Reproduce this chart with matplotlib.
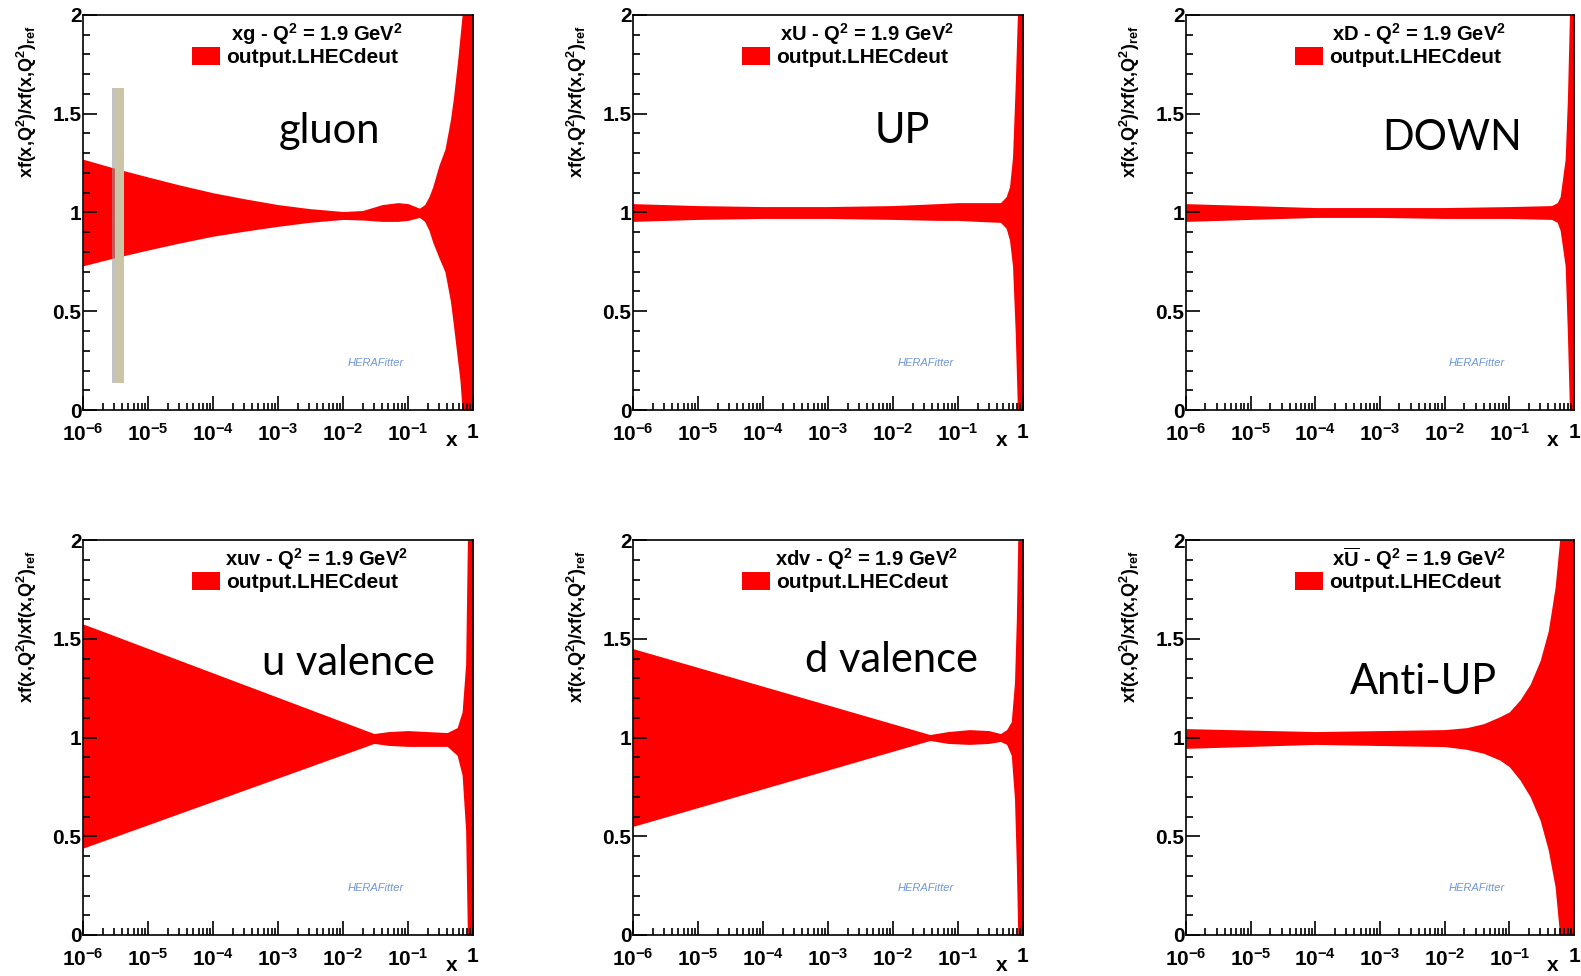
import numpy as np
import matplotlib.pyplot as plt
from matplotlib.patches import Patch, Rectangle
from matplotlib.ticker import LogLocator, NullFormatter, FixedLocator, MultipleLocator

plt.rcParams['font.family'] = ['Liberation Sans', 'DejaVu Sans']
plt.rcParams['mathtext.fontset'] = 'custom'
plt.rcParams['mathtext.rm'] = 'Liberation Sans:bold'
plt.rcParams['mathtext.bf'] = 'Liberation Sans:bold'
plt.rcParams['mathtext.default'] = 'bf'

# ==============================================================
# band edges (ratio to reference PDF)
x_gluon = [1e-6, 3e-6, 1e-5, 3e-5, 1e-4, 3e-4, 1e-3, 3e-3, 1e-2, 2e-2, 4e-2, 7e-2, 0.1,
           0.13, 0.15, 0.18, 0.21, 0.24, 0.3, 0.37, 0.45, 0.5, 0.58, 0.63, 0.68, 1.0]
up_gluon = [1.27, 1.225, 1.18, 1.14, 1.10, 1.07, 1.04, 1.02, 1.005, 1.01, 1.04, 1.05, 1.045,
            1.03, 1.022, 1.04, 1.08, 1.13, 1.24, 1.32, 1.47, 1.58, 1.77, 1.89, 2.0, 2.0]
lo_gluon = [0.73, 0.77, 0.81, 0.845, 0.88, 0.905, 0.93, 0.95, 0.965, 0.962, 0.955, 0.955, 0.96,
            0.97, 0.975, 0.955, 0.91, 0.85, 0.77, 0.70, 0.55, 0.43, 0.25, 0.15, 0.0, 0.0]

x_U = [1e-6, 1e-5, 1e-4, 1e-3, 1e-2, 5e-2, 0.1, 0.2, 0.45, 0.55, 0.62, 0.69, 0.76, 0.82, 1.0]
up_U = [1.045, 1.035, 1.03, 1.03, 1.035, 1.045, 1.05, 1.05, 1.05, 1.08, 1.13, 1.28, 1.65, 2.0, 2.0]
lo_U = [0.955, 0.965, 0.97, 0.97, 0.965, 0.96, 0.96, 0.955, 0.95, 0.92, 0.86, 0.73, 0.39, 0.0, 0.0]

x_D = [1e-6, 1e-5, 1e-4, 1e-3, 1e-2, 0.1, 0.45, 0.55, 0.61, 0.73, 0.79, 0.85, 1.0]
up_D = [1.045, 1.035, 1.025, 1.025, 1.025, 1.03, 1.035, 1.05, 1.08, 1.27, 1.57, 2.0, 2.0]
lo_D = [0.955, 0.965, 0.975, 0.975, 0.97, 0.97, 0.965, 0.95, 0.91, 0.73, 0.39, 0.0, 0.0]

x_uv = [1e-6, 3e-2, 5e-2, 0.1, 0.2, 0.4, 0.57, 0.68, 0.77, 0.82, 1.0]
up_uv = [1.575, 1.02, 1.03, 1.035, 1.03, 1.025, 1.05, 1.13, 1.37, 2.0, 2.0]
lo_uv = [0.44, 0.97, 0.96, 0.955, 0.955, 0.955, 0.91, 0.81, 0.53, 0.0, 0.0]

x_dv = [1e-6, 3.7e-2, 0.07, 0.15, 0.3, 0.45, 0.56, 0.66, 0.74, 0.79, 0.83, 1.0]
up_dv = [1.45, 1.015, 1.03, 1.04, 1.035, 1.02, 1.04, 1.08, 1.28, 1.6, 2.0, 2.0]
lo_dv = [0.55, 0.985, 0.97, 0.965, 0.97, 0.98, 0.965, 0.91, 0.69, 0.35, 0.0, 0.0]

x_Ubar = [1e-6, 1e-4, 1e-2, 2.2e-2, 4e-2, 7.1e-2, 0.1, 0.146, 0.21, 0.3, 0.4, 0.51, 0.6, 1.0]
up_Ubar = [1.045, 1.03, 1.04, 1.05, 1.07, 1.105, 1.13, 1.19, 1.27, 1.39, 1.54, 1.76, 2.0, 2.0]
lo_Ubar = [0.945, 0.965, 0.954, 0.94, 0.92, 0.886, 0.852, 0.785, 0.70, 0.58, 0.43, 0.245, 0.0, 0.0]

headers = ['xg - Q$^{2}$ = 1.9 GeV$^{2}$', 'xU - Q$^{2}$ = 1.9 GeV$^{2}$',
           'xD - Q$^{2}$ = 1.9 GeV$^{2}$', 'xuv - Q$^{2}$ = 1.9 GeV$^{2}$',
           'xdv - Q$^{2}$ = 1.9 GeV$^{2}$', 'x$\\overline{U}$ - Q$^{2}$ = 1.9 GeV$^{2}$']
names = ['gluon', 'UP', 'DOWN', 'u valence', 'd valence', 'Anti-UP']
name_pos = [(0.633, 0.706), (0.69, 0.706), (0.686, 0.689),
            (0.682, 0.689), (0.664, 0.697), (0.613, 0.641)]
xtick_vals = [1e-6, 1e-5, 1e-4, 1e-3, 1e-2, 1e-1, 1.0]
xtick_labels = ['10$^{-6}$', '10$^{-5}$', '10$^{-4}$', '10$^{-3}$', '10$^{-2}$', '10$^{-1}$', '1']
ytick_vals = [0, 0.5, 1, 1.5, 2]
ytick_labels = ['0', '0.5', '1', '1.5', '2']
legend_label = 'output.LHECdeut'

bands = [(x_gluon, up_gluon, lo_gluon), (x_U, up_U, lo_U), (x_D, up_D, lo_D),
         (x_uv, up_uv, lo_uv), (x_dv, up_dv, lo_dv), (x_Ubar, up_Ubar, lo_Ubar)]

# ==============================================================
W, H = 1581, 976
fig = plt.figure(figsize=(W / 100, H / 100), dpi=100)

lefts = [83, 633, 1186]
widths = [390, 390, 388]
tops = [15, 540]
height = 395

for i, (xs, up, lo) in enumerate(bands):
    r, c = divmod(i, 3)
    ax = fig.add_axes([lefts[c] / W, 1 - (tops[r] + height) / H, widths[c] / W, height / H])
    ax.fill_between(xs, lo, up, color='#ff0000', linewidth=0)
    ax.set_xscale('log')
    ax.set_xlim(1e-6, 1.0)
    ax.set_ylim(0, 2)

    ax.xaxis.set_major_locator(FixedLocator(xtick_vals))
    ax.set_xticklabels(xtick_labels)
    ax.xaxis.set_minor_locator(LogLocator(base=10, subs=np.arange(2, 10)))
    ax.xaxis.set_minor_formatter(NullFormatter())
    ax.set_yticks(ytick_vals)
    ax.set_yticklabels(ytick_labels)
    ax.yaxis.set_minor_locator(MultipleLocator(0.1))

    ax.tick_params(which='both', direction='in', top=False, right=False, width=1.2)
    ax.tick_params(which='major', length=10)
    ax.tick_params(which='minor', length=5)
    ax.tick_params(axis='x', which='major', pad=9, labelsize=15)
    ax.tick_params(axis='y', which='major', pad=1, labelsize=15)
    for lab in ax.get_xticklabels() + ax.get_yticklabels():
        lab.set_fontweight('bold')
    for sp in ax.spines.values():
        sp.set_linewidth(1.2)

    ax.text(-0.144, 0.975, 'xf(x,Q$^{2}$)/xf(x,Q$^{2}$)$_{ref}$', transform=ax.transAxes,
            rotation=90, ha='center', va='top', fontsize=13, fontweight='bold')
    ax.text(0.946, -0.078, 'x', transform=ax.transAxes, ha='center', va='center',
            fontsize=15, fontweight='bold')

    # legend
    ax.text(0.60, 0.952, headers[i], transform=ax.transAxes, ha='center', va='center',
            fontsize=14.5, fontweight='bold')
    ax.legend([Patch(facecolor='#ff0000')], [legend_label], loc='upper left',
              bbox_to_anchor=(0.28, 0.918), frameon=False, borderpad=0, borderaxespad=0,
              handlelength=1.35, handleheight=0.9, handletextpad=0.3,
              prop={'weight': 'bold', 'size': 15})

    # logo stand-in
    ax.text(0.75, 0.12, 'HERAFitter', transform=ax.transAxes, ha='center', va='center',
            fontsize=8, style='italic', color='#4a7fd0', alpha=0.8)

    ax.text(name_pos[i][0], name_pos[i][1], names[i], transform=ax.transAxes,
            ha='center', va='center', fontsize=30, family='Lato')

    if i == 0:
        # highlight bar drawn over the gluon panel
        ax.add_patch(Rectangle((0.074, 0.068), 0.01, 0.747, transform=ax.transAxes,
                               facecolor='#9a9a9a', edgecolor='none', alpha=0.6, zorder=5))
        ax.add_patch(Rectangle((0.082, 0.068), 0.023, 0.747, transform=ax.transAxes,
                               facecolor='#cbc5a5', edgecolor='none', zorder=6))

fig.savefig('out.png', dpi=100)
